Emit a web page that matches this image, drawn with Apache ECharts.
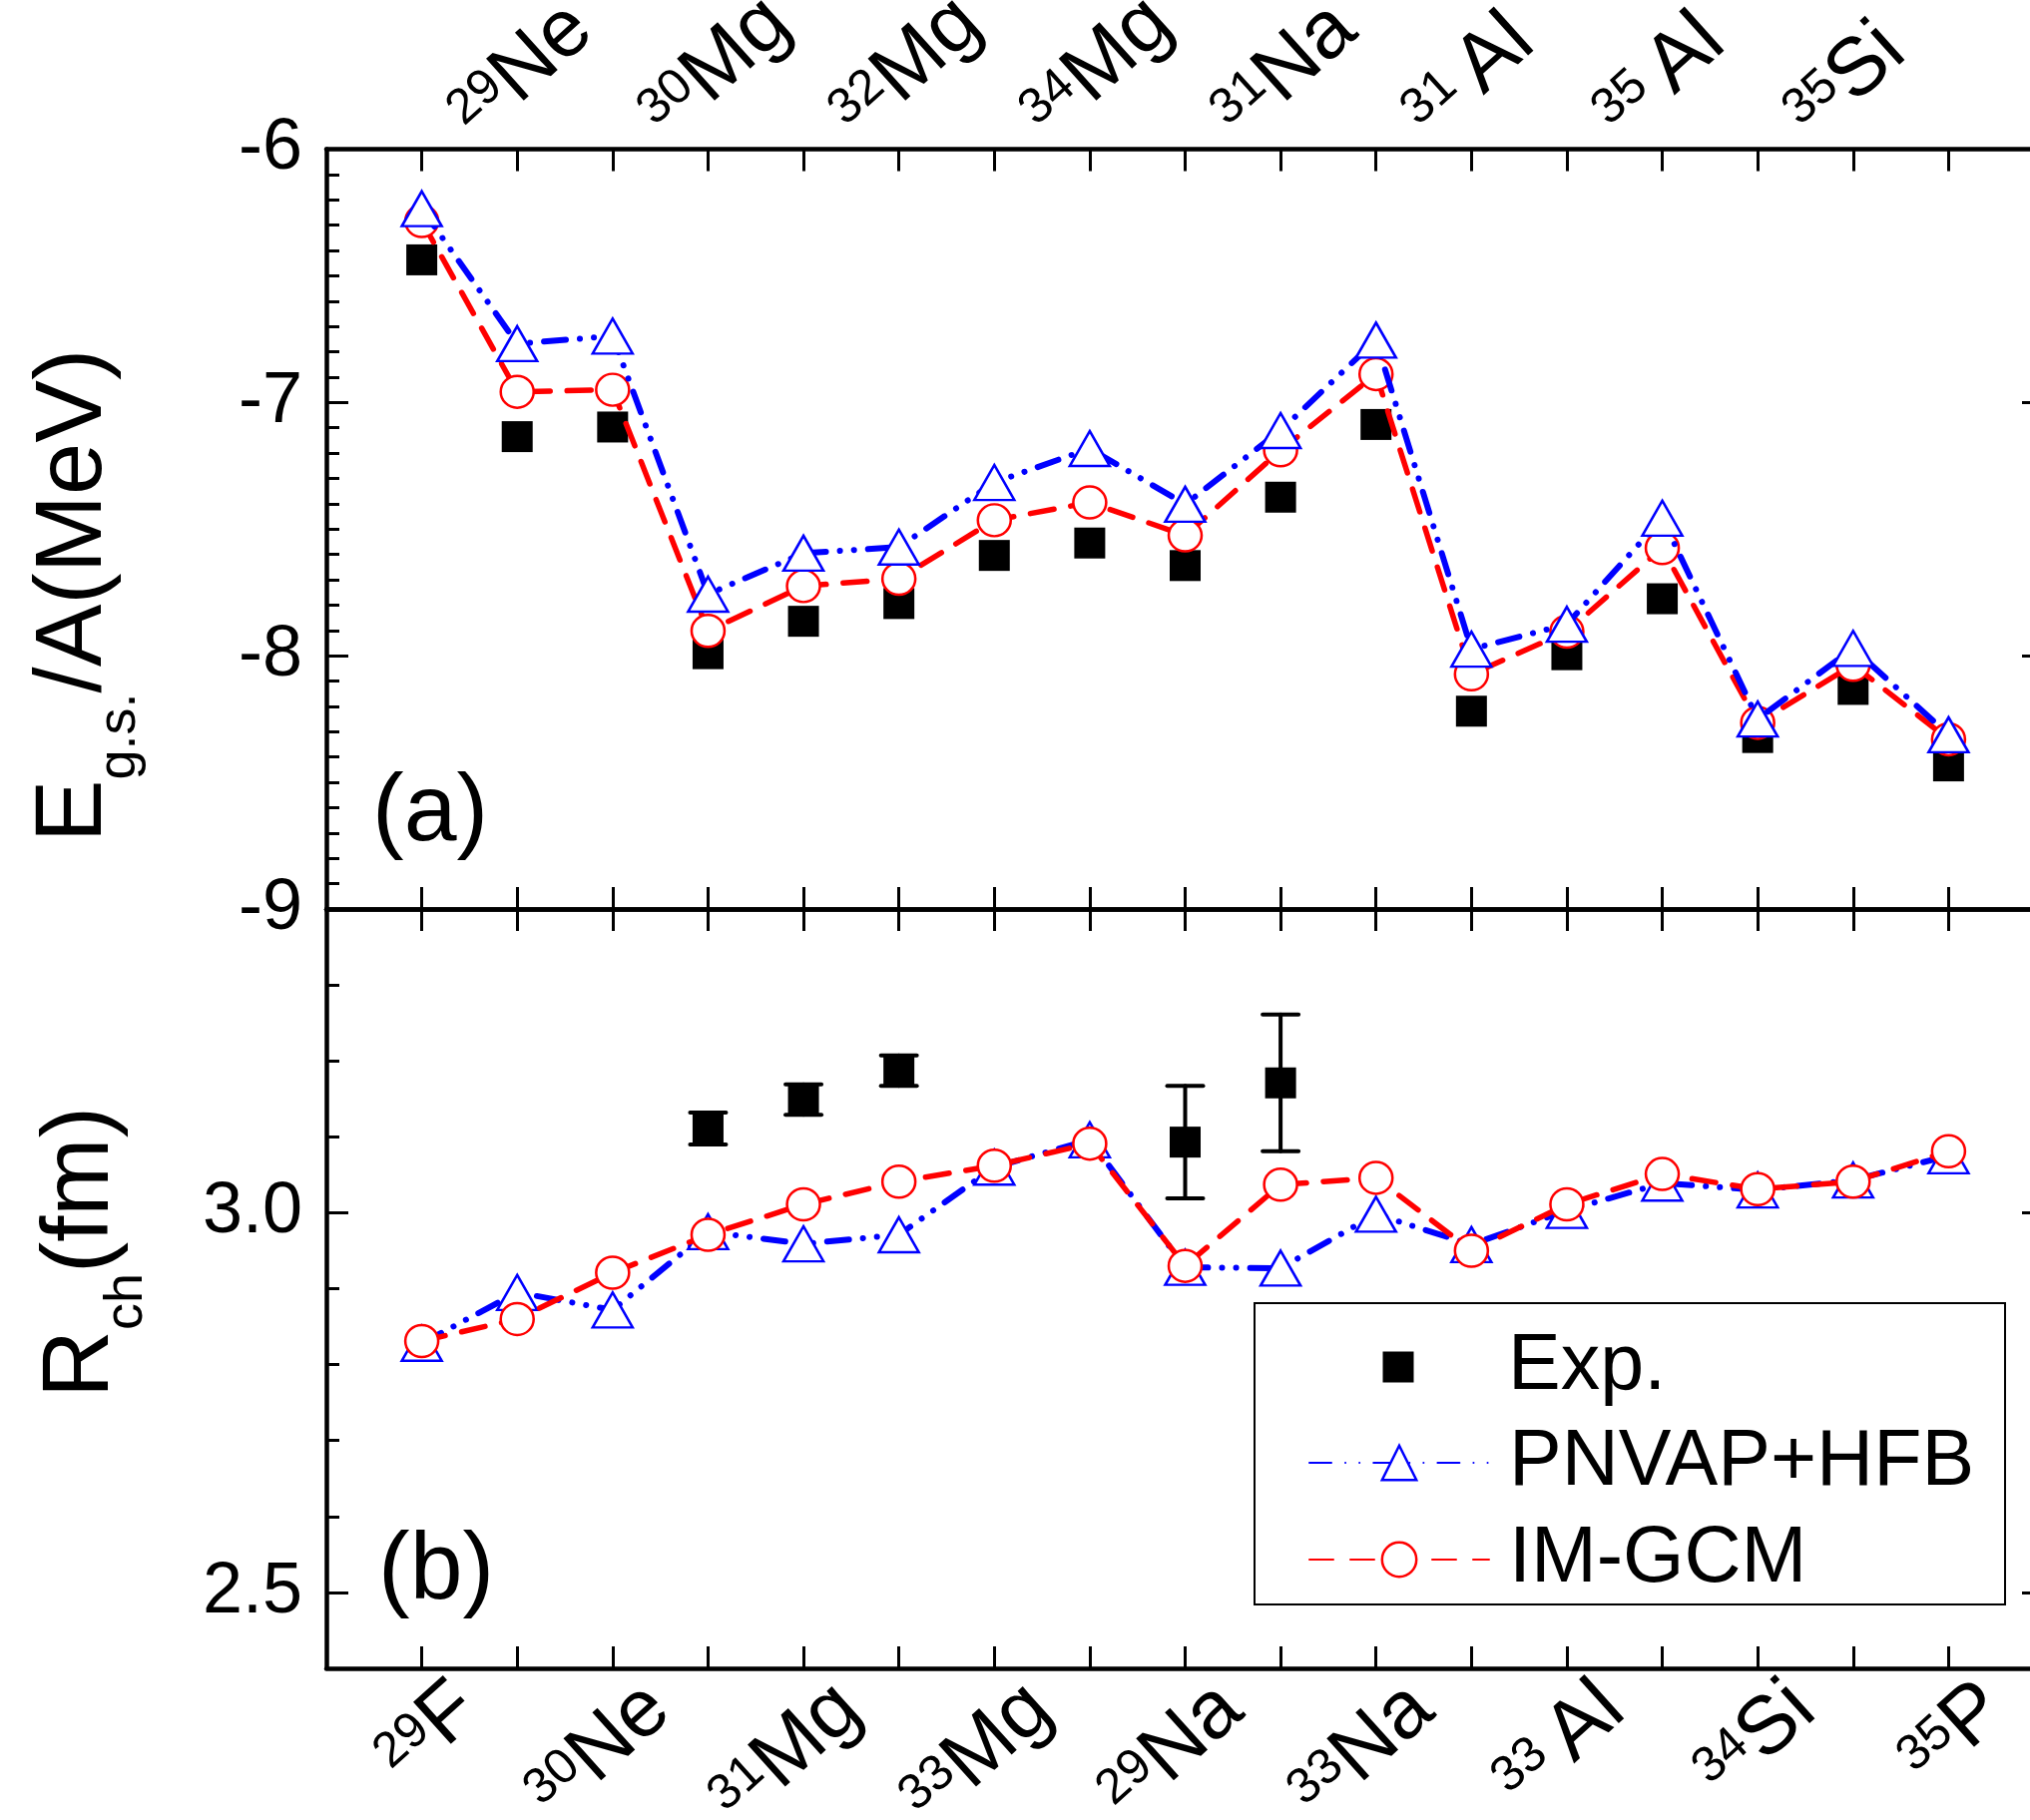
<!DOCTYPE html>
<html><head><meta charset="utf-8">
<script src="https://cdn.jsdelivr.net/npm/echarts@6/dist/echarts.min.js"></script>
<style>html,body{margin:0;padding:0;background:#fff}#c{width:2034px;height:1824px}</style>
</head><body><div id="c"></div>
<script>
// ---------------- data ----------------
const massNumbers = [29, 29, 30, 30, 31, 32, 33, 34, 29, 31, 33, 31, 33, 35, 34, 35, 35];
const elements = ['F', 'Ne', 'Ne', 'Mg', 'Mg', 'Mg', 'Mg', 'Mg', 'Na', 'Na', 'Na', 'Al', 'Al', 'Al', 'Si', 'Si', 'P'];

// (a) ground-state energy per nucleon (MeV)
const expE   = [-6.437, -7.135, -7.097, -7.992, -7.864, -7.794, -7.604, -7.555, -7.644, -7.374, -7.087, -8.219, -7.996, -7.775, -8.323, -8.133, -8.435];
const pnvapE = [-6.235, -6.768, -6.738, -7.757, -7.595, -7.571, -7.316, -7.182, -7.402, -7.111, -6.754, -7.974, -7.876, -7.457, -8.250, -7.971, -8.312];
const imgcmE = [-6.284, -6.958, -6.950, -7.902, -7.725, -7.696, -7.465, -7.395, -7.525, -7.189, -6.888, -8.073, -7.905, -7.575, -8.265, -8.036, -8.330];

// (b) charge radius (fm)
const expR    = [null, null, null, 3.111, 3.149, 3.187, null, null, 3.093, 3.171, null, null, null, null, null, null, null];
const expRErr = [null, null, null, 0.021, 0.020, 0.020, null, null, 0.074, 0.090, null, null, null, null, null, null, null];
const pnvapR  = [2.828, 2.895, 2.872, 2.975, 2.959, 2.971, 3.060, 3.096, 2.928, 2.927, 2.998, 2.958, 3.003, 3.039, 3.030, 3.043, 3.075];
const imgcmR  = [2.831, 2.860, 2.921, 2.971, 3.011, 3.041, 3.062, 3.091, 2.930, 3.037, 3.046, 2.950, 3.011, 3.051, 3.031, 3.041, 3.081];

const energyTicks = [-9, -8, -7, -6];
const radiusTicks = [2.5, 3.0];
const radiusMinorTicks = [2.4, 2.5, 2.6, 2.7, 2.8, 2.9, 3.0, 3.1, 3.2, 3.3, 3.4];

// ---------------- styles ----------------
const FONT = '"Liberation Sans", Arial, Helvetica, sans-serif';
const BLACK = '#000';
const RED = '#ff0000';
const BLUE = '#0000ff';
const axisLineStyle = { color: BLACK, width: 4.5 };
const tickStyle = { color: BLACK, width: 3 };

const EL = 82, SUP = 50;
const SUPRAISE = 0.37 * (EL - SUP);
const Db = 69, Dt = 82;

function isoFormatter(parity) {
  return function (v) {
    const i = Math.round(v);
    if (i < 0 || i > 16 || i % 2 !== parity) return '';
    const sp = elements[i].charAt(0) === 'A' ? ' ' : '';
    return '{s|' + massNumbers[i] + sp + '}{e|' + elements[i] + '}';
  };
}

function xAx(gridIndex, position, label) {
  return {
    gridIndex, type: 'value', position, min: -1, max: 17, interval: 1,
    axisLine: { show: true, onZero: false, lineStyle: axisLineStyle },
    axisTick: { show: true, inside: true, length: 22, lineStyle: tickStyle },
    splitLine: { show: false },
    axisLabel: label || { show: false }
  };
}

const bottomLabel = {
  show: true, rotate: 42, margin: -21.4, color: BLACK, formatter: isoFormatter(0),
  align: 'right', verticalAlign: 'middle',
  showMinLabel: true, showMaxLabel: true,
  rich: {
    s: { fontSize: SUP, fontFamily: FONT, color: BLACK, lineHeight: EL, padding: [2 * (Db - SUPRAISE), 0, 0, 0] },
    e: { fontSize: EL, fontFamily: FONT, color: BLACK, lineHeight: EL, padding: [2 * Db, 0, 0, 0] }
  }
};
const topLabel = {
  show: true, rotate: -42, margin: -37, color: BLACK, formatter: isoFormatter(1),
  align: 'left', verticalAlign: 'middle',
  showMinLabel: true, showMaxLabel: true,
  rich: {
    s: { fontSize: SUP, fontFamily: FONT, color: BLACK, lineHeight: EL, padding: [0, 0, 2 * (Dt + SUPRAISE), 0] },
    e: { fontSize: EL, fontFamily: FONT, color: BLACK, lineHeight: EL, padding: [0, 0, 2 * Dt, 0] }
  }
};

const yLabelBase = { show: true, fontSize: 72, fontFamily: FONT, color: BLACK, margin: 24, showMinLabel: true, showMaxLabel: true };

const option = {
  animation: false,
  backgroundColor: '#fff',
  grid: [
    { left: 327, top: 149.5, width: 1721, height: 761.5, containLabel: false, outerBoundsMode: 'none' },
    { left: 327, top: 911, width: 1721, height: 761, containLabel: false, outerBoundsMode: 'none' }
  ],
  xAxis: [
    xAx(0, 'bottom'),
    xAx(0, 'top', topLabel),
    xAx(1, 'top'),
    xAx(1, 'bottom', bottomLabel)
  ],
  yAxis: [
    {
      gridIndex: 0, type: 'value', position: 'left', min: energyTicks[0], max: energyTicks[3], interval: 1,
      axisLine: { show: true, onZero: false, lineStyle: axisLineStyle },
      axisTick: { show: true, inside: true, length: 22, lineStyle: tickStyle },
      minorTick: { show: true, splitNumber: 10, length: 13, lineStyle: tickStyle },
      splitLine: { show: false }, minorSplitLine: { show: false },
      axisLabel: yLabelBase
    },
    {
      gridIndex: 0, type: 'value', position: 'right', min: energyTicks[0], max: energyTicks[3], interval: 1,
      axisLine: { show: true, onZero: false, lineStyle: axisLineStyle },
      axisTick: { show: true, inside: true, length: 22, lineStyle: tickStyle },
      minorTick: { show: true, splitNumber: 10, length: 13, lineStyle: tickStyle },
      splitLine: { show: false }, minorSplitLine: { show: false },
      axisLabel: { show: false }
    },
    {
      gridIndex: 1, type: 'value', position: 'left', min: 2.4, max: 3.4, interval: 0.1,
      axisLine: { show: true, onZero: false, lineStyle: axisLineStyle },
      axisTick: { show: true, inside: true, length: 22, lineStyle: tickStyle, customValues: radiusTicks },
      splitLine: { show: false },
      axisLabel: Object.assign({}, yLabelBase, { customValues: radiusTicks, formatter: v => Number(v).toFixed(1) })
    },
    {
      gridIndex: 1, type: 'value', position: 'right', min: 2.4, max: 3.4, interval: 0.1,
      axisLine: { show: true, onZero: false, lineStyle: axisLineStyle },
      axisTick: { show: true, inside: true, length: 22, lineStyle: tickStyle, customValues: radiusTicks },
      splitLine: { show: false },
      axisLabel: { show: false }
    },
    {
      gridIndex: 1, type: 'value', position: 'left', min: 2.4, max: 3.4, interval: 0.1,
      axisLine: { show: false, onZero: false },
      axisTick: { show: true, inside: true, length: 13, lineStyle: tickStyle, customValues: radiusMinorTicks },
      splitLine: { show: false },
      axisLabel: { show: false }
    }
  ],
  legend: [
    {
      data: [{ name: 'Exp.', icon: 'rect' }],
      orient: 'vertical', left: 1385.5, top: 1330, padding: 0, itemGap: 0,
      itemWidth: 31, itemHeight: 31, selectedMode: false,
      itemStyle: { opacity: 1 },
      textStyle: { fontSize: 79, fontFamily: FONT, color: BLACK, lineHeight: 80, padding: [0, 0, 0, 89.5] }
    },
    {
      data: ['PNVAP+HFB', 'IM-GCM'],
      orient: 'vertical', left: 1311, top: 1426, padding: 0, itemGap: 17,
      itemWidth: 180, itemHeight: 43, selectedMode: false,
      itemStyle: { borderWidth: 2.5 },
      textStyle: { fontSize: 79, fontFamily: FONT, color: BLACK, lineHeight: 80, padding: [0, 0, 0, 15] }
    }
  ],
  series: [
    // panel (a)
    {
      name: 'Exp.', type: 'scatter', xAxisIndex: 0, yAxisIndex: 0, z: 3,
      data: expE.map((v, i) => [i, v]),
      symbol: 'rect', symbolSize: 31, itemStyle: { color: BLACK, opacity: 1 }
    },
    {
      name: 'IM-GCM', type: 'line', xAxisIndex: 0, yAxisIndex: 0, z: 4,
      data: imgcmE.map((v, i) => [i, v]),
      symbol: 'circle', symbolSize: [33, 32], showAllSymbol: true,
      itemStyle: { color: '#fff', borderColor: RED, borderWidth: 2.5 },
      lineStyle: { color: RED, width: 5.5, type: [24, 17], cap: 'round' }
    },
    {
      name: 'PNVAP+HFB', type: 'line', xAxisIndex: 0, yAxisIndex: 0, z: 5,
      data: pnvapE.map((v, i) => [i, v]),
      symbol: 'triangle', symbolSize: [40, 35], showAllSymbol: true,
      itemStyle: { color: '#fff', borderColor: BLUE, borderWidth: 2.5 },
      lineStyle: { color: BLUE, width: 6, type: [22, 14, 0.1, 14, 0.1, 14], cap: 'round' }
    },
    // panel (b)
    {
      name: 'PNVAP+HFB', type: 'line', xAxisIndex: 3, yAxisIndex: 2, z: 3,
      data: pnvapR.map((v, i) => [i, v]),
      symbol: 'triangle', symbolSize: [40, 35], showAllSymbol: true,
      itemStyle: { color: '#fff', borderColor: BLUE, borderWidth: 2.5 },
      lineStyle: { color: BLUE, width: 6, type: [22, 14, 0.1, 14, 0.1, 14], cap: 'round' }
    },
    {
      name: 'IM-GCM', type: 'line', xAxisIndex: 3, yAxisIndex: 2, z: 4,
      data: imgcmR.map((v, i) => [i, v]),
      symbol: 'circle', symbolSize: [33, 32], showAllSymbol: true,
      itemStyle: { color: '#fff', borderColor: RED, borderWidth: 2.5 },
      lineStyle: { color: RED, width: 5.5, type: [24, 17], cap: 'round' }
    },
    {
      name: 'Exp. error', type: 'custom', xAxisIndex: 3, yAxisIndex: 2, z: 5,
      encode: { x: 0, y: 1 },
      data: expR.map((v, i) => v == null ? null : [i, v, expRErr[i]]).filter(d => d),
      renderItem: function (params, api) {
        const x = api.value(0), y = api.value(1), e = api.value(2);
        const top = api.coord([x, y + e]);
        const bot = api.coord([x, y - e]);
        const hw = 18;
        const st = { stroke: BLACK, lineWidth: 4, lineCap: 'round' };
        return {
          type: 'group',
          children: [
            { type: 'line', shape: { x1: top[0], y1: top[1], x2: bot[0], y2: bot[1] }, style: st },
            { type: 'line', shape: { x1: top[0] - hw, y1: top[1], x2: top[0] + hw, y2: top[1] }, style: st },
            { type: 'line', shape: { x1: bot[0] - hw, y1: bot[1], x2: bot[0] + hw, y2: bot[1] }, style: st }
          ]
        };
      }
    },
    {
      name: 'Exp.', type: 'scatter', xAxisIndex: 3, yAxisIndex: 2, z: 6,
      data: expR.map((v, i) => v == null ? null : [i, v]).filter(d => d),
      symbol: 'rect', symbolSize: 31, itemStyle: { color: BLACK, opacity: 1 }
    }
  ],
  graphic: [
    {
      type: 'text', x: 75, y: 597, rotation: Math.PI / 2, z: 100,
      style: {
        text: '{m|E}{s|g.s.}{m|/A(MeV)}', align: 'center', verticalAlign: 'middle',
        rich: {
          m: { fontSize: 94, fontFamily: FONT, fill: BLACK, lineHeight: 100 },
          s: { fontSize: 54, fontFamily: FONT, fill: BLACK, lineHeight: 100, padding: [90, 0, 0, 0] }
        }
      }
    },
    {
      type: 'text', x: 82, y: 1255, rotation: Math.PI / 2, z: 100,
      style: {
        text: '{m|R}{s|ch}{m|(fm)}', align: 'center', verticalAlign: 'middle',
        rich: {
          m: { fontSize: 94, fontFamily: FONT, fill: BLACK, lineHeight: 100 },
          s: { fontSize: 54, fontFamily: FONT, fill: BLACK, lineHeight: 100, padding: [90, 0, 0, 0] }
        }
      }
    },
    {
      type: 'text', x: 373, y: 816, z: 100,
      style: { text: '(a)', fontSize: 95, fontFamily: FONT, fill: BLACK, align: 'left', verticalAlign: 'middle' }
    },
    {
      type: 'text', x: 379, y: 1576, z: 100,
      style: { text: '(b)', fontSize: 95, fontFamily: FONT, fill: BLACK, align: 'left', verticalAlign: 'middle' }
    },
    {
      type: 'rect', z: 100,
      shape: { x: 1257, y: 1306, width: 752, height: 302 },
      style: { fill: 'none', stroke: BLACK, lineWidth: 2 }
    }
  ]
};

const chart = echarts.init(document.getElementById('c'), null, { renderer: 'canvas', width: 2034, height: 1824 });
chart.setOption(option);
</script>
</body></html>
